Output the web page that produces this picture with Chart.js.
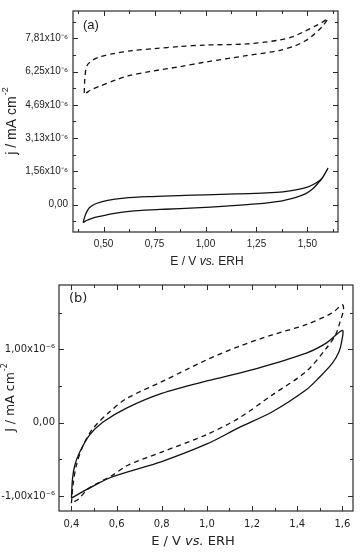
<!DOCTYPE html>
<html>
<head>
<meta charset="utf-8">
<script src="https://cdn.jsdelivr.net/npm/chart.js@4.4.1/dist/chart.umd.min.js"></script>
<style>
  html, body { margin: 0; padding: 0; background: #fff; }
  #wrapA { position: absolute; left: 0; top: 0; width: 360px; height: 270px; }
  #wrapB { position: absolute; left: 0; top: 270px; width: 360px; height: 283px; }
</style>
</head>
<body>
<div id="wrapA"><canvas id="chartA" width="360" height="270"></canvas></div>
<div id="wrapB"><canvas id="chartB" width="360" height="283"></canvas></div>
<script>
// panel (a) - values in units of 1e-6 mA cm-2
const aTicksX = [0.5, 0.75, 1.0, 1.25, 1.5];
const aLabelsX = ['0,50', '0,75', '1,00', '1,25', '1,50'];
const aMinorX = [0.375, 0.625, 0.875, 1.125, 1.375, 1.625];
const aTicksY = [0, 1.5625, 3.125, 4.6875, 6.25, 7.8125];
const aLabelsY = ['0,00', '1,56x10⁻⁶', '3,13x10⁻⁶', '4,69x10⁻⁶', '6,25x10⁻⁶', '7,81x10⁻⁶'];
const aMinorY = [-0.78125, 0.78125, 2.34375, 3.90625, 5.46875, 7.03125, 8.59375];

const aSolidE = [0.40, 0.405, 0.414, 0.43, 0.464, 0.52, 0.60, 0.72, 0.87, 1.00, 1.15, 1.30, 1.38, 1.45, 1.50, 1.54, 1.57, 1.60,
                 1.575, 1.55, 1.525, 1.49, 1.44, 1.36, 1.25, 1.10, 0.95, 0.80, 0.65, 0.56, 0.48, 0.44, 0.414, 0.40];
const aSolidJ = [-0.85, -0.65, -0.41, -0.15, 0.05, 0.20, 0.30, 0.37, 0.42, 0.46, 0.50, 0.55, 0.60, 0.70, 0.82, 1.00, 1.22, 1.70,
                 1.27, 0.98, 0.73, 0.50, 0.33, 0.15, 0.03, -0.07, -0.16, -0.22, -0.30, -0.40, -0.56, -0.66, -0.76, -0.85];
const aDashE = [0.405, 0.408, 0.417, 0.44, 0.48, 0.55, 0.643, 0.75, 0.873, 1.00, 1.20, 1.36, 1.43, 1.49, 1.54, 1.57, 1.60,
                1.58, 1.56, 1.52, 1.49, 1.44, 1.36, 1.20, 1.00, 0.873, 0.724, 0.62, 0.56, 0.48, 0.44, 0.415];
const aDashJ = [5.25, 5.90, 6.50, 6.75, 6.94, 7.10, 7.24, 7.33, 7.43, 7.50, 7.55, 7.73, 7.90, 8.16, 8.40, 8.55, 8.74,
                8.45, 8.24, 7.90, 7.70, 7.47, 7.24, 7.00, 6.70, 6.48, 6.25, 6.05, 5.86, 5.56, 5.40, 5.25];

// panel (b)
const bTicksX = [0.4, 0.6, 0.8, 1.0, 1.2, 1.4, 1.6];
const bLabelsX = ['0,4', '0,6', '0,8', '1,0', '1,2', '1,4', '1,6'];
const bMinorX = [0.5, 0.7, 0.9, 1.1, 1.3, 1.5];
const bTicksY = [-1, 0, 1];
const bLabelsY = ['-1,00x10⁻⁶', '0,00', '1,00x10⁻⁶'];
const bMinorY = [-0.5, 0.5, 1.5];

const bSolidE = [0.40, 0.405, 0.415, 0.437, 0.48, 0.54, 0.644, 0.80, 1.00, 1.22, 1.44, 1.53, 1.60,
                 1.597, 1.585, 1.555, 1.495, 1.44, 1.29, 1.14, 1.00, 0.80, 0.58, 0.475, 0.40];
const bSolidJ = [-1.03, -0.76, -0.58, -0.40, -0.17, 0.01, 0.20, 0.40, 0.57, 0.74, 0.95, 1.09, 1.26,
                 1.11, 0.97, 0.81, 0.61, 0.45, 0.15, -0.07, -0.29, -0.53, -0.74, -0.90, -1.03];
const bDashE = [0.40, 0.407, 0.422, 0.452, 0.495, 0.57, 0.644, 0.80, 1.00, 1.14, 1.29, 1.44, 1.555, 1.60,
                1.605, 1.59, 1.57, 1.53, 1.44, 1.29, 1.14, 1.00, 0.80, 0.65, 0.58, 0.475, 0.432, 0.40];
const bDashJ = [-1.10, -0.85, -0.58, -0.31, -0.08, 0.15, 0.33, 0.56, 0.86, 1.04, 1.20, 1.34, 1.50, 1.61,
                1.54, 1.38, 1.20, 1.02, 0.70, 0.38, 0.06, -0.16, -0.40, -0.58, -0.72, -0.90, -1.04, -1.10];

const toPts = (xs, ys) => xs.map((x, i) => ({ x: x, y: ys[i] }));

// frame with inward ticks on all four sides, plus axis titles and panel letter
function framePlugin(cfg) {
    return {
        id: 'frame',
        afterDraw(chart) {
            const { ctx, chartArea: a, scales: { x, y } } = chart;
            ctx.save();
            ctx.strokeStyle = '#2b2b2b';
            ctx.lineWidth = 1.2;
            ctx.strokeRect(a.left, a.top, a.right - a.left, a.bottom - a.top);
            ctx.lineWidth = 1;
            const tickX = (vals, len) => vals.forEach(v => {
                const px = Math.round(x.getPixelForValue(v)) + 0.5;
                if (px < a.left || px > a.right) return;
                ctx.beginPath();
                ctx.moveTo(px, a.bottom); ctx.lineTo(px, a.bottom - len);
                ctx.moveTo(px, a.top); ctx.lineTo(px, a.top + len);
                ctx.stroke();
            });
            const tickY = (vals, len) => vals.forEach(v => {
                const py = Math.round(y.getPixelForValue(v)) + 0.5;
                if (py < a.top || py > a.bottom) return;
                ctx.beginPath();
                ctx.moveTo(a.left, py); ctx.lineTo(a.left + len, py);
                ctx.moveTo(a.right, py); ctx.lineTo(a.right - len, py);
                ctx.stroke();
            });
            tickX(cfg.ticksX, 5); tickX(cfg.minorX, 3);
            tickY(cfg.ticksY, 5); tickY(cfg.minorY, 3);

            ctx.fillStyle = '#222';
            ctx.textBaseline = 'middle';
            // panel letter
            ctx.font = cfg.letterFont;
            ctx.textAlign = 'left';
            ctx.fillText(cfg.letter, a.left + 10, a.top + 14);

            // x title with italic "vs."
            const parts = [['E / V ', cfg.xTitleFont], ['vs.', 'italic ' + cfg.xTitleFont], [' ERH', cfg.xTitleFont]];
            let w = 0;
            parts.forEach(p => { ctx.font = p[1]; w += ctx.measureText(p[0]).width; });
            let cx = cfg.xTitleCX - w / 2;
            parts.forEach(p => { ctx.font = p[1]; ctx.fillText(p[0], cx, cfg.xTitleY); cx += ctx.measureText(p[0]).width; });

            // y title with superscript
            ctx.translate(cfg.yTitleX, (a.top + a.bottom) / 2);
            ctx.rotate(-Math.PI / 2);
            ctx.font = cfg.yTitleFont;
            const main = cfg.yTitle;
            const mw = ctx.measureText(main).width;
            ctx.font = cfg.supFont;
            const sw = ctx.measureText('-2').width;
            const sx = -(mw + sw) / 2;
            ctx.font = cfg.yTitleFont;
            ctx.fillText(main, sx, 0);
            ctx.font = cfg.supFont;
            ctx.fillText('-2', sx + mw + 1, -6);
            ctx.restore();
        }
    };
}

function lineSet(pts, dashed) {
    return {
        data: pts,
        showLine: true,
        borderColor: '#111',
        borderWidth: 1.3,
        borderDash: dashed ? [5, 4] : [],
        pointRadius: 0,
        tension: 0.3,
        fill: false
    };
}

function axes(cfg) {
    return {
        x: {
            type: 'linear', min: cfg.xMin, max: cfg.xMax,
            grid: { display: false, drawTicks: false },
            border: { display: false },
            afterBuildTicks: s => { s.ticks = cfg.ticksX.map(v => ({ value: v })); },
            afterFit: s => { s.height = cfg.xHeight; },
            ticks: { padding: cfg.xPad, color: '#222', font: cfg.tickFont, maxRotation: 0,
                     callback: (v, i) => cfg.labelsX[i] }
        },
        y: {
            type: 'linear', min: cfg.yMin, max: cfg.yMax,
            grid: { display: false, drawTicks: false },
            border: { display: false },
            afterBuildTicks: s => { s.ticks = cfg.ticksY.map(v => ({ value: v })); },
            afterFit: s => { s.width = cfg.yWidth; },
            ticks: { padding: cfg.yPad, color: '#222', font: cfg.tickFont,
                     callback: (v, i) => cfg.labelsY[i] }
        }
    };
}

const cfgA = {
    xMin: 0.35, xMax: 1.65, yMin: -1.29, yMax: 9.1,
    ticksX: aTicksX, labelsX: aLabelsX, minorX: aMinorX,
    ticksY: aTicksY, labelsY: aLabelsY, minorY: aMinorY,
    xHeight: 38, yWidth: 73, xPad: 6, yPad: 5,
    tickFont: { family: 'Liberation Sans', size: 10 },
    xTitleFont: '12px "Liberation Sans"', yTitleFont: '14px "Liberation Sans"', supFont: '9px "Liberation Sans"',
    letterFont: '13px "Liberation Sans"', letter: '(a)',
    xTitleCX: 207, xTitleY: 262, yTitleX: 12, yTitle: 'j / mA cm'
};
const cfgB = {
    xMin: 0.345, xMax: 1.647, yMin: -1.205, yMax: 1.88,
    ticksX: bTicksX, labelsX: bLabelsX, minorX: bMinorX,
    ticksY: bTicksY, labelsY: bLabelsY, minorY: bMinorY,
    xHeight: 42, yWidth: 59, xPad: 7, yPad: 4,
    tickFont: { family: 'DejaVu Sans', size: 10 },
    xTitleFont: '13px "DejaVu Sans"', yTitleFont: '12.5px "DejaVu Sans"', supFont: '8px "DejaVu Sans"',
    letterFont: '13px "DejaVu Sans"', letter: '(b)',
    xTitleCX: 193, xTitleY: 272, yTitleX: 11, yTitle: 'J / mA cm'
};

new Chart(document.getElementById('chartA'), {
    type: 'scatter',
    data: { datasets: [lineSet(toPts(aSolidE, aSolidJ), false), lineSet(toPts(aDashE, aDashJ), true)] },
    options: {
        responsive: false, animation: false,
        layout: { padding: { top: 6, right: 22, left: 0, bottom: 0 } },
        plugins: { legend: { display: false }, tooltip: { enabled: false } },
        scales: axes(cfgA)
    },
    plugins: [framePlugin(cfgA)]
});

new Chart(document.getElementById('chartB'), {
    type: 'scatter',
    data: { datasets: [lineSet(toPts(bSolidE, bSolidJ), false), lineSet(toPts(bDashE, bDashJ), true)] },
    options: {
        responsive: false, animation: false,
        layout: { padding: { top: 15, right: 7, left: 0, bottom: 0 } },
        plugins: { legend: { display: false }, tooltip: { enabled: false } },
        scales: axes(cfgB)
    },
    plugins: [framePlugin(cfgB)]
});
</script>
</body>
</html>
